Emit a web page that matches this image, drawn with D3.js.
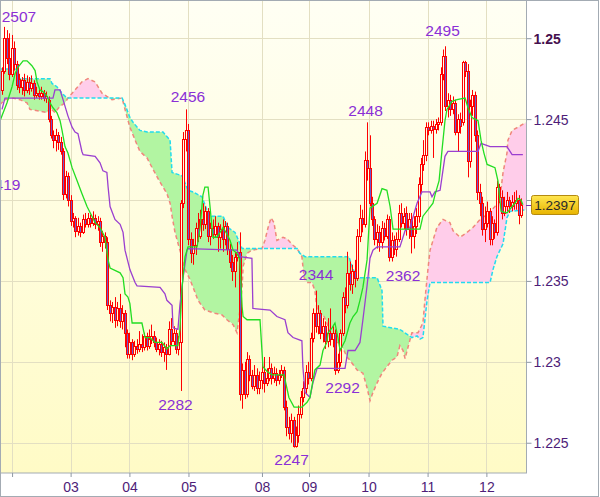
<!DOCTYPE html>
<html><head><meta charset="utf-8">
<script src="https://cdn.jsdelivr.net/npm/d3@7"></script>
<style>body{margin:0;background:#fff}svg{display:block}</style>
</head><body>
<script>
// hourly candles, values in pips (price = 1 + v/10000): [open, high, low, close]
const ohlc = [
[2468,2482,2465,2480],[2480,2507,2478,2500],[2500,2505,2484,2488],[2488,2503,2474,2478],[2478,2502,2476,2494],
[2494,2498,2480,2484],[2484,2486,2468,2471],[2475,2478,2466,2470],[2470,2476,2465,2474],[2474,2478,2464,2468],
[2468,2477,2466,2473],[2473,2476,2465,2469],[2469,2477,2467,2472],[2472,2474,2462,2465],[2465,2470,2463,2466],
[2466,2469,2462,2464],[2464,2470,2462,2466],[2466,2468,2461,2463],[2463,2467,2460,2464],[2462,2464,2448,2450],
[2450,2452,2438,2440],[2440,2443,2432,2437],[2437,2444,2430,2440],[2440,2442,2431,2436],[2436,2439,2428,2430],
[2430,2432,2400,2404],[2404,2418,2401,2415],[2415,2417,2396,2400],[2400,2403,2384,2387],[2387,2392,2383,2389],
[2389,2390,2377,2381],[2381,2389,2378,2384],[2384,2386,2377,2380],[2380,2391,2379,2388],[2388,2392,2383,2385],
[2385,2392,2383,2389],[2389,2391,2383,2386],[2386,2393,2384,2389],[2389,2391,2382,2385],[2385,2390,2381,2387],
[2387,2389,2371,2374],[2374,2381,2368,2378],[2378,2380,2370,2374],[2374,2377,2332,2335],[2335,2338,2325,2330],
[2330,2337,2324,2334],[2334,2340,2321,2326],[2326,2337,2322,2333],[2333,2342,2321,2325],[2325,2335,2320,2330],
[2330,2332,2309,2318],[2318,2320,2302,2305],[2305,2318,2302,2312],[2312,2314,2301,2305],[2305,2313,2303,2310],
[2310,2314,2305,2308],[2308,2319,2306,2311],[2311,2317,2306,2309],[2309,2318,2307,2316],[2316,2318,2307,2310],
[2310,2320,2308,2314],[2314,2323,2311,2316],[2316,2319,2309,2312],[2312,2315,2306,2308],[2308,2314,2304,2311],
[2311,2313,2303,2306],[2306,2312,2300,2309],[2309,2311,2295,2305],[2305,2325,2304,2320],[2320,2327,2310,2313],
[2313,2322,2310,2318],[2318,2320,2305,2308],[2308,2316,2304,2312],[2312,2400,2282,2398],[2398,2442,2395,2438],
[2438,2456,2430,2443],[2443,2447,2372,2376],[2376,2380,2361,2367],[2367,2376,2360,2372],[2372,2386,2366,2383],
[2383,2392,2374,2378],[2378,2394,2376,2388],[2388,2398,2381,2385],[2385,2396,2382,2393],[2393,2395,2374,2378],
[2378,2386,2372,2383],[2383,2388,2376,2379],[2379,2390,2377,2384],[2384,2386,2368,2377],[2377,2385,2370,2382],
[2382,2388,2368,2376],[2376,2387,2372,2384],[2384,2386,2366,2370],[2370,2373,2358,2362],[2362,2366,2350,2356],
[2356,2368,2346,2365],[2365,2374,2362,2368],[2368,2380,2276,2280],[2280,2299,2271,2295],[2295,2300,2277,2280],
[2280,2306,2278,2302],[2302,2304,2288,2292],[2292,2295,2283,2285],[2285,2298,2282,2292],[2292,2296,2280,2284],
[2284,2294,2280,2289],[2289,2300,2283,2294],[2294,2303,2281,2287],[2287,2296,2285,2290],[2290,2303,2288,2296],
[2296,2299,2286,2290],[2290,2297,2287,2293],[2293,2296,2285,2289],[2289,2295,2286,2292],[2292,2298,2290,2295],
[2295,2297,2270,2272],[2272,2276,2254,2260],[2260,2266,2252,2256],[2256,2268,2250,2264],[2264,2266,2247,2248],
[2248,2260,2247,2255],[2255,2273,2250,2268],[2268,2282,2265,2278],[2278,2288,2275,2284],[2284,2298,2280,2294],
[2294,2300,2286,2290],[2290,2318,2288,2315],[2315,2333,2312,2330],[2330,2344,2318,2322],[2322,2335,2317,2330],
[2330,2332,2314,2318],[2318,2327,2312,2322],[2322,2325,2308,2313],[2313,2327,2309,2318],[2318,2333,2310,2314],
[2314,2322,2309,2318],[2318,2320,2292,2295],[2295,2305,2293,2300],[2300,2320,2297,2318],[2318,2343,2316,2340],
[2340,2346,2330,2335],[2335,2368,2333,2355],[2355,2362,2344,2348],[2348,2360,2342,2356],[2356,2363,2346,2352],
[2352,2382,2350,2378],[2378,2397,2374,2389],[2389,2394,2380,2385],[2385,2430,2383,2425],[2425,2448,2412,2420],
[2420,2440,2396,2398],[2398,2402,2384,2388],[2388,2390,2372,2376],[2376,2385,2370,2380],[2380,2384,2368,2374],
[2374,2387,2370,2383],[2383,2386,2375,2378],[2378,2391,2376,2388],[2388,2390,2362,2365],[2365,2380,2362,2375],
[2375,2378,2366,2370],[2370,2380,2365,2376],[2376,2397,2374,2392],[2392,2398,2383,2386],[2386,2395,2382,2390],
[2392,2396,2378,2382],[2382,2392,2376,2388],[2388,2392,2367,2378],[2378,2390,2370,2384],[2384,2395,2379,2390],
[2390,2414,2386,2410],[2410,2426,2405,2422],[2422,2437,2418,2428],[2428,2448,2424,2445],[2445,2448,2440,2443],
[2443,2449,2441,2446],[2446,2449,2426,2444],[2444,2450,2441,2447],[2447,2451,2443,2448],[2448,2482,2446,2478],
[2478,2493,2474,2489],[2489,2495,2455,2458],[2458,2466,2451,2462],[2462,2465,2452,2456],[2456,2464,2453,2460],
[2460,2462,2440,2442],[2442,2453,2430,2450],[2450,2454,2441,2446],[2448,2486,2446,2485],[2485,2486,2476,2480],
[2480,2484,2414,2424],[2424,2462,2420,2458],[2458,2468,2452,2465],[2465,2467,2436,2440],[2440,2443,2400,2405],
[2405,2410,2390,2398],[2398,2402,2378,2382],[2382,2396,2374,2386],[2386,2399,2383,2393],[2393,2395,2372,2376],
[2376,2390,2372,2386],[2386,2388,2376,2380],[2380,2412,2378,2408],[2408,2410,2398,2402],[2402,2406,2388,2392],
[2392,2402,2390,2396],[2396,2405,2393,2400],[2400,2402,2392,2396],[2396,2403,2393,2399],[2399,2405,2394,2398],
[2398,2406,2394,2400],[2400,2403,2385,2391],[2391,2401,2389,2397]
];

// indicator lines: [bar index, pips]
const tenkan = [[-1.2,2449],[1.6,2460],[3.7,2470],[4.9,2478],[6.1,2482],[8.2,2486],[9.8,2486],[11.8,2483],[13.1,2480],[13.9,2473],[15.1,2468],[16.3,2467],[18,2464],[19.2,2460],[20.4,2457],[22,2454],[23.3,2449],[24.1,2443],[25.3,2433],[26.5,2429],[28.2,2420],[30.2,2412],[32.2,2404],[34.3,2396],[36.3,2390],[37.6,2386],[39.6,2383],[41.6,2377],[42.9,2363],[43.7,2358],[47.8,2355],[49,2352],[49.8,2342],[51,2340],[51.8,2336],[52.7,2324],[56.7,2324],[58,2315],[60,2315],[62,2312],[64.9,2312],[66.9,2308],[68.2,2310],[71.4,2310],[72.2,2320],[73.1,2346],[74.3,2365],[75.5,2371],[79.2,2371],[80.4,2382],[81.6,2403],[82.4,2408],[83.7,2408],[84.5,2396],[85.3,2383],[85.7,2377],[87.3,2377],[88.6,2380],[89.8,2383],[91,2380],[92.7,2375],[93.9,2369],[95.5,2367],[96.7,2363],[97.6,2334],[98,2328],[99.6,2326],[104.9,2326],[106.1,2297],[107.8,2294],[109.8,2292],[114.7,2292],[116.7,2278],[118.8,2272],[122,2272],[124.1,2275],[125.3,2278],[127.3,2295],[129.4,2298],[130.6,2307],[132.2,2312],[132.7,2318],[134.3,2321],[135.5,2324],[136.7,2315],[137.6,2307],[139.6,2313],[141.6,2324],[142.9,2328],[144.5,2331],[145.7,2338],[146.9,2346],[148.6,2363],[149.8,2395],[152.7,2398],[154.7,2407],[156.7,2406],[158,2396],[159.2,2382],[164.9,2382],[170.2,2382],[171.4,2390],[173.5,2394],[175.5,2398],[176.3,2403],[178,2412],[179.2,2431],[180.4,2449],[181.2,2456],[183.3,2461],[185.3,2462],[188.6,2463],[189.8,2457],[191.4,2451],[193.9,2449],[195.1,2437],[196.3,2429],[197.6,2422],[200.8,2420],[202,2412],[203.3,2393],[205.7,2392],[207.8,2396],[209,2398],[210.2,2401],[211.4,2400],[212.2,2397]];

const kijun = [[-0.4,2456],[0.8,2463],[20.4,2463],[21.2,2468],[23.3,2468],[24.5,2462],[26.5,2452],[28.2,2445],[29.4,2442],[30.6,2441],[32.2,2430],[32.7,2428],[37.6,2427],[39.6,2423],[40.8,2418],[42.4,2417],[42.9,2408],[43.7,2396],[45.7,2388],[47.8,2385],[49,2380],[49.8,2369],[51.8,2357],[53.9,2349],[54.7,2347],[64.1,2346],[66.1,2342],[66.9,2338],[69,2335],[69.4,2321],[71.4,2320],[72.2,2335],[73.5,2352],[75.1,2369],[75.5,2370],[95.5,2369],[96.7,2365],[101.6,2364],[102,2333],[109,2332],[111.8,2328],[115.1,2326],[116.3,2318],[118.4,2315],[122,2313],[122.4,2297],[123.3,2281],[125.3,2278],[126.5,2287],[128.2,2296],[139.6,2296],[140.8,2307],[143.7,2307],[145.7,2312],[146.9,2326],[148.6,2347],[149.8,2364],[151,2369],[152.7,2371],[162,2371],[164.1,2381],[166.1,2383],[169,2398],[171,2405],[174.3,2405],[175.1,2402],[176.3,2405],[178.4,2406],[180.4,2427],[181.6,2430],[193.9,2430],[195.1,2435],[198.8,2433],[205.7,2433],[207.8,2428],[212.2,2428]];

const spanA = [[-1.2,2481],[4.9,2481],[6.1,2475],[19.2,2475],[20,2472],[22,2470],[24.1,2466],[26.1,2463],[48.6,2463],[49.8,2459],[51.8,2451],[53.1,2448],[55.9,2443],[58.8,2442],[65.3,2442],[68.2,2437],[69,2417],[73.1,2415],[75.5,2406],[77.6,2405],[81.2,2402],[83.7,2392],[85.3,2390],[89.8,2390],[91.8,2383],[94.7,2380],[97.6,2370],[120,2370],[121.2,2367],[123.3,2365],[141.2,2365],[142.4,2359],[144.5,2352],[152.7,2352],[154.7,2344],[155.1,2322],[162,2320],[166.9,2315],[169,2316],[170.2,2314],[171.4,2315],[173.1,2338],[174.3,2349],[198.8,2349],[200,2357],[201.6,2365],[204.1,2373],[205.7,2389],[206.9,2393],[213.5,2394]];

const spanB = [[-1.2,2459],[0.8,2462],[4.1,2463],[6.9,2462],[9.8,2460],[11,2456],[18,2454],[19.2,2457],[21.2,2454],[23.3,2458],[25.3,2460],[26.5,2463],[29.4,2468],[32.2,2473],[34.7,2475],[37.6,2473],[39.6,2468],[40.4,2466],[42.4,2464],[44.5,2462],[48.6,2463],[49.8,2456],[51.8,2445],[53.9,2437],[55.9,2430],[58.8,2426],[61.2,2419],[64.1,2411],[66.9,2404],[68.2,2398],[69,2390],[70.2,2380],[72.2,2369],[74.3,2357],[76.3,2351],[77.6,2346],[79.6,2338],[82.4,2332],[86.5,2330],[89.4,2329],[91.4,2326],[93.9,2323],[95.5,2318],[96.7,2332],[97.6,2346],[98,2359],[99.6,2367],[101.6,2369],[105.7,2370],[106.9,2375],[108.2,2383],[109.4,2389],[110.6,2386],[111.8,2375],[114.3,2377],[115.9,2376],[118.4,2372],[120,2370],[121.2,2367],[122,2365],[122.9,2352],[124.1,2349],[126.1,2349],[127.3,2344],[128.2,2332],[129,2330],[131,2328],[132.2,2324],[133.5,2318],[135.1,2314],[136.3,2312],[137.6,2312],[139.2,2307],[140.4,2303],[141.6,2301],[144.5,2295],[146.9,2293],[148.6,2284],[149.8,2276],[151,2281],[152.7,2287],[154.7,2293],[156.7,2297],[158.8,2301],[160.8,2303],[162,2310],[163.3,2307],[164.1,2302],[165.3,2309],[166.9,2318],[169.4,2318],[171.4,2324],[172.2,2338],[173.5,2358],[174.3,2369],[177.1,2383],[179.6,2388],[182.4,2386],[183.7,2381],[186.5,2377],[189.4,2380],[191.8,2383],[194.7,2388],[197.6,2391],[200.8,2396],[202.9,2402],[204.1,2417],[205.7,2429],[206.1,2437],[207.8,2443],[210.2,2445],[213.5,2448]];

const dayTicks = [3.7, 27.6, 51.6, 75.7, 105.7, 124.9, 149.2, 173.3, 197.3];
const dayLabels = ["", "03", "04", "05", "08", "09", "10", "11", "12"];
const priceTicks = [1.225, 1.23, 1.235, 1.24, 1.245, 1.25];
const priceTickLabels = ["1.225", "1.23", "1.235", "1.24", "1.245", "1.25"];
// [text, bar index, pips, anchor]
const extremeLabels = [["2507",6.5,2510,"middle"],["2419",7.1,2406.2,"end"],["2456",75.5,2460.6,"middle"],["2448",148,2451.9,"middle"],["2495",179.4,2501.4,"middle"],["2282",70.4,2270.2,"middle"],["2344",127.8,2350.6,"middle"],["2362",163.3,2350,"middle"],["2292",138.6,2280.7,"middle"],["2247",117.8,2236.2,"middle"]];
const lastPrice = 2397;
const lastPriceLabel = "1.2397";

const W = 600, H = 497, PW = 526, PH = 473;
const px = v => 1 + v / 10000;
const x = d3.scaleLinear().domain([0, 212]).range([3, 522.4]);
const y = d3.scaleLinear().domain([1.22313, 1.25236]).range([PH, 0]);

const svg = d3.select("body").append("svg").attr("width", W).attr("height", H);
const defs = svg.append("defs");
const g1 = defs.append("linearGradient").attr("id", "bg").attr("gradientUnits", "userSpaceOnUse")
  .attr("x1", 0).attr("y1", 0).attr("x2", 0).attr("y2", PH);
g1.append("stop").attr("offset", 0).attr("stop-color", "#fffff4");
g1.append("stop").attr("offset", 1).attr("stop-color", "#fffbc6");
const g2 = defs.append("linearGradient").attr("id", "gold").attr("x1", 0).attr("y1", 0).attr("x2", 0).attr("y2", 1);
g2.append("stop").attr("offset", 0).attr("stop-color", "#ffe650");
g2.append("stop").attr("offset", 1).attr("stop-color", "#e8b400");
defs.append("clipPath").attr("id", "plot").append("rect").attr("width", PW).attr("height", PH);

const lineGen = d3.line().x(d => x(d[0])).y(d => y(px(d[1])));
defs.append("clipPath").attr("id", "aboveB").append("path")
  .attr("d", d3.area().x(d => x(d[0])).y0(-5).y1(d => y(px(d[1])))(spanB));
defs.append("clipPath").attr("id", "belowB").append("path")
  .attr("d", d3.area().x(d => x(d[0])).y0(PH + 5).y1(d => y(px(d[1])))(spanB));

svg.append("rect").attr("width", W).attr("height", H).attr("fill", "#fff");
svg.append("rect").attr("width", PW).attr("height", PH).attr("fill", "url(#bg)");

const plot = svg.append("g").attr("clip-path", "url(#plot)");

// grid
const gridY = plot.append("g").call(d3.axisLeft(y).tickValues(priceTicks).tickSize(-PW).tickFormat(""));
const gridX = plot.append("g").attr("transform", `translate(0,${PH})`)
  .call(d3.axisBottom(x).tickValues(dayTicks).tickSize(-PH).tickFormat(""));
[gridX, gridY].forEach(g => {
  g.select(".domain").remove();
  g.selectAll("line").attr("stroke", "#e3dfc2").attr("shape-rendering", "crispEdges");
});

// cloud
const cloudPath = lineGen(spanA) + "L" + lineGen(spanB.slice().reverse()).slice(1) + "Z";
plot.append("path").attr("d", cloudPath).attr("fill", "#b2f5a2").attr("clip-path", "url(#aboveB)");
plot.append("path").attr("d", cloudPath).attr("fill", "#ffcdea").attr("clip-path", "url(#belowB)");
plot.append("path").attr("d", lineGen(spanB)).attr("fill", "none").attr("stroke", "#f0877c")
  .attr("stroke-width", 1.5).attr("stroke-dasharray", "4,3");
plot.append("path").attr("d", lineGen(spanA)).attr("fill", "none").attr("stroke", "#22dcee")
  .attr("stroke-width", 1.5).attr("stroke-dasharray", "4,2");

// candles
const cg = plot.append("g");
ohlc.forEach((d, i) => {
  const [o, h, l, c] = d;
  const cx = Math.round(x(i));
  const g = cg.append("g");
  g.append("line").attr("x1", cx - 0.5).attr("x2", cx - 0.5)
    .attr("y1", y(px(h))).attr("y2", y(px(l))).attr("stroke", "#ff0000").attr("stroke-width", 1);
  const yt = Math.round(Math.min(y(px(o)), y(px(c))));
  const yb = Math.round(Math.max(y(px(o)), y(px(c))));
  g.append("rect").attr("x", cx - 1.5).attr("y", yt + 0.5).attr("width", 2).attr("height", Math.max(1, yb - yt))
    .attr("fill", c < o ? "#6a5acd" : "url(#bg)").attr("stroke", "#ff0000").attr("stroke-width", 1);
});

// tenkan / kijun
plot.append("path").attr("d", lineGen(kijun)).attr("fill", "none").attr("stroke", "#9a3fd0").attr("stroke-width", 1.3);
plot.append("path").attr("d", lineGen(tenkan)).attr("fill", "none").attr("stroke", "#22dd22").attr("stroke-width", 1.3);

// extreme labels
plot.selectAll("text.ext").data(extremeLabels).join("text").attr("class", "ext")
  .attr("x", d => x(d[1])).attr("y", d => y(px(d[2])))
  .attr("text-anchor", d => d[3])
  .attr("font-family", "Liberation Sans, Arial, sans-serif").attr("font-size", 15.5)
  .attr("fill", "#8a2fd6").text(d => d[0]);

// frames
svg.append("rect").attr("x", 0.5).attr("y", 0.5).attr("width", PW).attr("height", PH - 0.5)
  .attr("fill", "none").attr("stroke", "#a3abb3");
svg.append("rect").attr("x", 0.5).attr("y", 0.5).attr("width", W - 2).attr("height", H - 1)
  .attr("fill", "none").attr("stroke", "#a3abb3");

// y axis
const ya = svg.append("g").attr("transform", `translate(${PW + 0.5},0)`)
  .call(d3.axisRight(y).tickValues(priceTicks).tickSize(5).tickPadding(2).tickFormat((d, i) => priceTickLabels[i]));
ya.select(".domain").remove();
ya.selectAll("line").attr("stroke", "#8f99a3");
ya.selectAll("text").attr("font-family", "Liberation Sans, Arial, sans-serif").attr("font-size", 14)
  .attr("fill", "#4e1d78").attr("dy", "0.36em")
  .attr("font-weight", (d, i) => priceTickLabels[i] === "1.25" ? "bold" : "normal")
  .attr("fill", (d, i) => priceTickLabels[i] === "1.25" ? "#46104e" : "#4e1d78");

// x axis
const xa = svg.append("g").attr("transform", `translate(0,${PH})`)
  .call(d3.axisBottom(x).tickValues(dayTicks).tickSize(4).tickPadding(5).tickFormat((d, i) => dayLabels[i]));
xa.select(".domain").remove();
xa.selectAll("line").attr("stroke", "#8f99a3");
xa.selectAll("text").attr("font-family", "Liberation Sans, Arial, sans-serif").attr("font-size", 14).attr("fill", "#4e1d78");

// last price marker
const ly = Math.round(y(px(lastPrice))) + 0.5;
svg.append("line").attr("x1", PW).attr("x2", PW + 6).attr("y1", ly).attr("y2", ly).attr("stroke", "#7a2fb0");
svg.append("rect").attr("x", PW + 5.5).attr("y", ly - 10).attr("width", 47).attr("height", 19).attr("rx", 2)
  .attr("fill", "url(#gold)").attr("stroke", "#b48a10");
svg.append("text").attr("x", PW + 29).attr("y", ly + 4.5).attr("text-anchor", "middle")
  .attr("font-family", "Liberation Sans, Arial, sans-serif").attr("font-size", 13.5).attr("fill", "#2a2a2a")
  .text(lastPriceLabel);
</script>
</body></html>
